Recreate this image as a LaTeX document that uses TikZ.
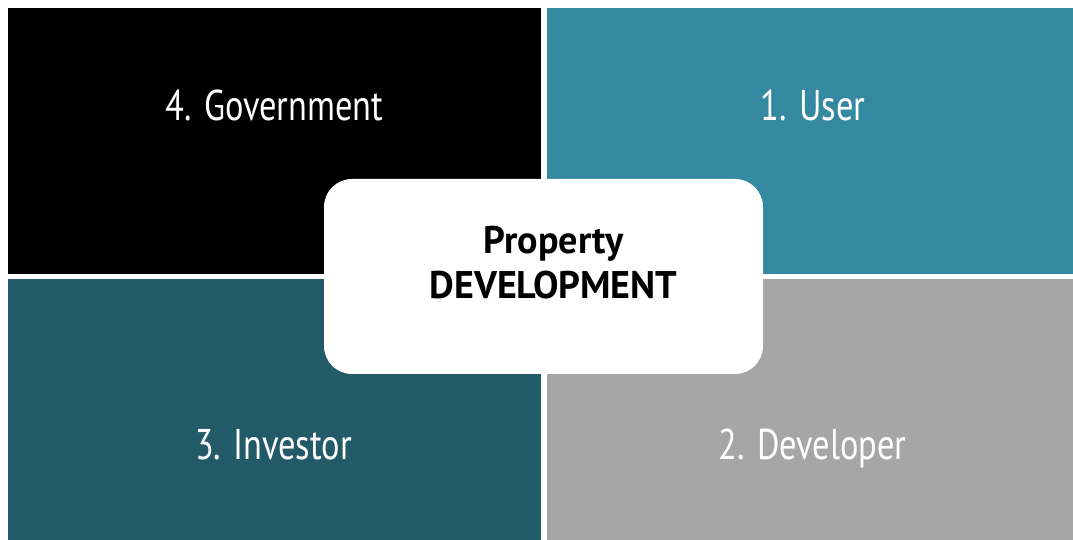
\documentclass[tikz,border=0pt]{standalone}
\usepackage{fontspec}
\setmainfont{PT Sans}[FakeStretch=0.8, BoldFeatures={FakeStretch=0.99}]

\definecolor{userteal}{HTML}{3488A0}
\definecolor{investorteal}{HTML}{235A68}
\definecolor{developergray}{HTML}{A6A6A6}

\tikzset{
  quadlabel/.style={text=white, anchor=base, inner sep=0pt,
    font=\fontsize{43}{50}\selectfont},
  core/.style={fill=white, rounded corners=28pt, minimum width=439pt,
    minimum height=195pt, inner sep=0pt},
  title/.style={align=center, inner sep=0pt,
    font=\fontsize{38.5}{45}\selectfont\bfseries}
}

\begin{document}
\begin{tikzpicture}[x=1pt, y=1pt]

\useasboundingbox (0,0) rectangle (1073,540);

% Quadrants: fill
\fill[black] (8,266) rectangle (541,532);
\fill[userteal] (547,266) rectangle (1073,532);
\fill[investorteal] (8,0) rectangle (541,261);
\fill[developergray] (547,0) rectangle (1073,261);

% Quadrant labels
\node[quadlabel] (government) at (274.5,419) {4. Government};
\node[quadlabel] (user) at (813,419) {1. User};
\node[quadlabel] (investor) at (273.5,80) {3. Investor};
\node[quadlabel] (developer) at (812.5,80) {2. Developer};

% Centre box
\node[core] (core) at (543.5,263.5) {};
\node[title] (property) at (553.5,277) {Property\\DEVELOPMENT};

\end{tikzpicture}
\end{document}
